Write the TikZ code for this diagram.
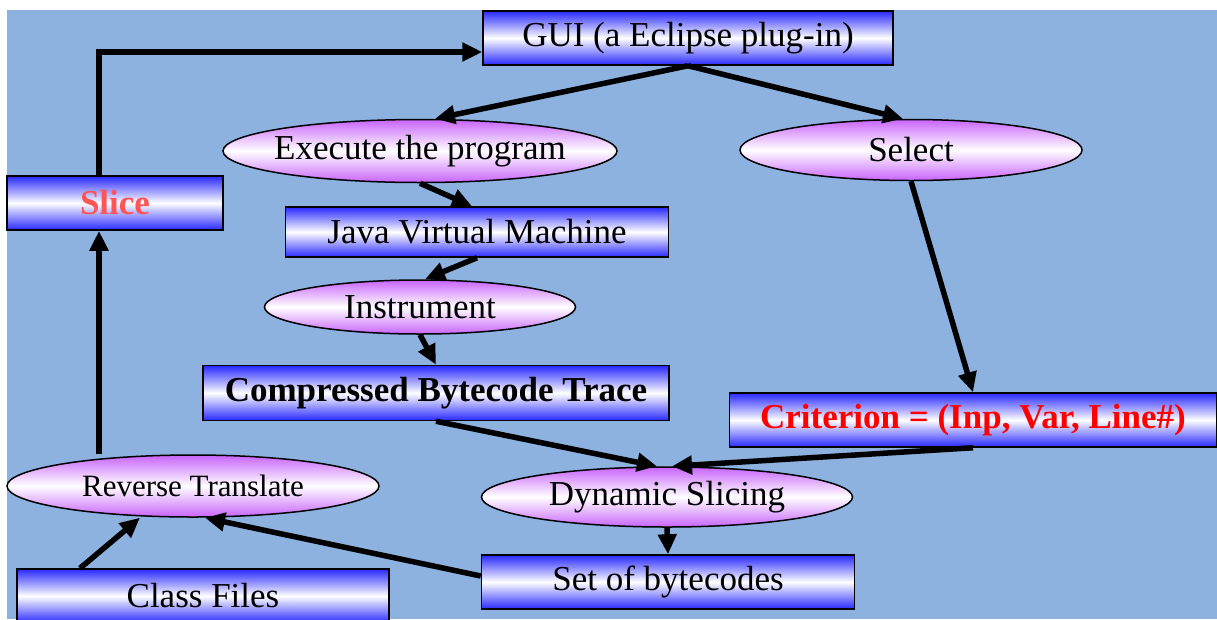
\documentclass[tikz,border=0pt]{standalone}
\usepackage{fontspec}
\setmainfont{Liberation Serif}
\usetikzlibrary{shapes.geometric,arrows.meta}
\definecolor{bg}{RGB}{141,178,224}
\definecolor{boxblue}{RGB}{40,40,255}
\definecolor{ellv}{RGB}{200,100,250}
\definecolor{slicered}{RGB}{255,85,85}
\begin{document}
\begin{tikzpicture}[x=1pt,y=-1pt,
  box/.style={draw=black, line width=1.5pt, rectangle, top color=boxblue, bottom color=boxblue, middle color=white, inner sep=0pt, font=\fontsize{35}{38}\selectfont},
  ell/.style={draw=black, line width=1.5pt, ellipse, top color=ellv, bottom color=ellv, middle color=white, inner xsep=-40pt, inner ysep=-6pt, font=\fontsize{35}{38}\selectfont},
  arr/.style={line width=5.5pt, -{Triangle[length=20pt,width=18pt]}}]
\useasboundingbox (0,0) rectangle (1217,619);
\fill[white] (0,0) rectangle (1217,619);
\fill[bg] (7,10) rectangle (1217,619);
\node[box, minimum width=410pt, minimum height=54pt] (gui) at (688,38) {GUI (a Eclipse plug-in)};
\node[ell, minimum width=394pt, minimum height=63pt] (exec) at (420,151) {Execute the program};
\node[ell, minimum width=342pt, minimum height=61pt] (select) at (911,150) {Select};
\node[box, minimum width=216pt, minimum height=54pt, text=slicered, font=\fontsize{35}{38}\selectfont\bfseries] (slice) at (115,203) {Slice};
\node[box, minimum width=383pt, minimum height=50pt] (jvm) at (477,232) {Java Virtual Machine};
\node[ell, minimum width=311pt, minimum height=54pt] (instr) at (420,307) {Instrument};
\node[box, minimum width=466pt, minimum height=55pt, font=\fontsize{35}{38}\selectfont\bfseries] (comp) at (436,393) {Compressed Bytecode Trace};
\node[box, minimum width=487pt, minimum height=54pt, text=red, font=\fontsize{35}{38}\selectfont\bfseries] (crit) at (973,420) {Criterion = (Inp, Var, Line\#)};
\node[ell, minimum width=372pt, minimum height=62pt, font=\fontsize{31}{34}\selectfont] (rev) at (193,486) {Reverse Translate};
\node[ell, minimum width=371pt, minimum height=60pt] (dyn) at (667,497) {Dynamic Slicing};
\node[box, minimum width=372pt, minimum height=54pt] (class) at (203,596) {Class Files};
\node[box, minimum width=373pt, minimum height=54pt] (set) at (668,582) {Set of bytecodes};
\draw[arr] ([xshift=-16pt]slice.north) |- ([yshift=-14pt]gui.west);
\draw[arr] (gui.south) -- ([xshift=15pt]exec.north);
\draw[arr] (gui.south) -- ([xshift=-8pt]select.north);
\draw[arr] (exec.south) -- ([xshift=-5pt]jvm.north);
\draw[arr] (jvm.south) -- ([xshift=5pt]instr.north);
\draw[arr] (instr.south) -- (comp.north);
\draw[arr] (select.south) -- (crit.north);
\draw[arr] (comp.south) -- ([xshift=-10pt]dyn.north);
\draw[arr] (crit.south) -- ([xshift=5pt]dyn.north);
\draw[arr] (dyn.south) -- (set.north);
\draw[arr] ([yshift=6pt]set.west) -- ([xshift=12pt]rev.south);
\draw[arr] ([xshift=-123pt]class.north) -- ([xshift=-53pt]rev.south);
\draw[arr] ([xshift=-94pt]rev.north) -- ([xshift=-16pt]slice.south);
\end{tikzpicture}
\end{document}
